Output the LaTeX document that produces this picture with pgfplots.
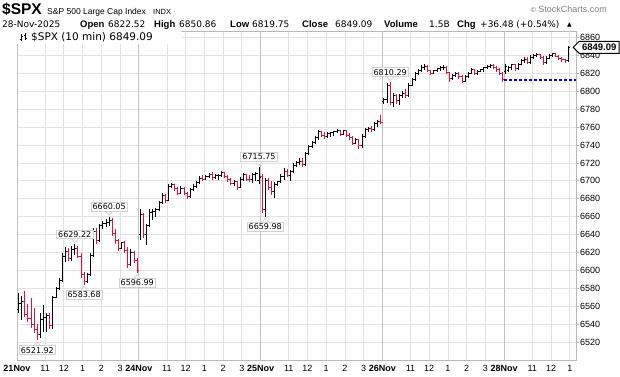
\documentclass[border=0pt]{standalone}
\usepackage{pgfplots}
\pgfplotsset{compat=1.18}
\usepackage{pgfplotstable}
\usepackage{fontspec}
\setmainfont{Liberation Sans}
\newfontfamily\dejavu{DejaVu Sans}
\definecolor{barred}{RGB}{220,20,60}
\definecolor{gridc}{RGB}{226,226,226}
\definecolor{dayc}{RGB}{192,192,192}
\definecolor{pblue}{RGB}{0,0,255}
% rising bars (close >= open)
\pgfplotstableread{
x o h l c
0 6556 6575 6553 6563
1 6563 6571 6545 6565
7 6528 6552 6525 6545
8 6545 6561 6531 6548
9 6548 6553 6531 6550
11 6538 6572 6535 6570
12 6570 6582 6569 6580
13 6580 6592 6578 6589
14 6589 6620 6587 6615
15 6615 6626 6609 6621
17 6613 6627 6611 6623
18 6623 6629.22 6617 6625
22 6588 6597 6586 6595
23 6595 6620 6594 6617
24 6617 6647 6615 6643
26 6633 6652 6632 6650
27 6650 6655 6646 6652
28 6652 6657 6649 6654
29 6654 6660.05 6650 6656
33 6625 6632 6624 6631
36 6607 6624 6605 6620
39 6640 6669 6634 6662
41 6640 6652 6628 6650
42 6650 6669 6648 6665
43 6665 6669 6656 6666
44 6666 6670 6660 6668
45 6668 6678 6666 6676
46 6676 6686 6674 6684
48 6678 6697 6677 6694
49 6694 6698 6692 6696
52 6686 6694 6685 6692
55 6682 6692 6681 6690
56 6690 6696 6689 6694
57 6694 6700 6692 6698
58 6698 6705 6697 6703
60 6702 6707 6701 6705
61 6705 6709 6703 6707
63 6704 6708 6702 6706
64 6706 6708 6701 6706
65 6706 6711 6704 6709
69 6697 6701 6694 6699
71 6693 6704 6692 6702
72 6702 6709 6700 6707
75 6701 6709 6698 6707
76 6707 6710 6700 6708
77 6700 6715.75 6697 6704
79 6668 6703 6659.98 6700
82 6688 6699 6681 6696
83 6696 6700 6694 6699
84 6699 6708 6698 6705
85 6705 6714 6701 6711
87 6706 6712 6700 6710
88 6710 6720 6709 6717
89 6717 6722 6715 6720
90 6720 6725 6718 6722
92 6718 6732 6717 6730
93 6730 6740 6729 6738
94 6738 6745 6737 6743
95 6743 6750 6741 6748
96 6748 6757 6746 6755
99 6749 6755 6748 6753
100 6753 6755 6749 6754
101 6754 6756 6750 6755
102 6755 6758 6753 6756
104 6752 6757 6751 6756
108 6742 6748 6741 6746
110 6739 6752 6737 6750
111 6750 6759 6748 6757
112 6757 6760 6755 6759
114 6757 6766 6756 6764
115 6764 6768 6760 6766
117 6789 6793 6786 6791
118 6791 6809 6787 6806
120 6788 6798 6782 6795
122 6790 6797 6785 6795
123 6795 6800 6792 6798
125 6795 6809 6794 6807
126 6807 6815 6806 6813
127 6813 6822 6812 6820
128 6820 6825 6818 6823
129 6823 6829 6822 6827
130 6827 6830 6824 6828
133 6820 6824 6819 6823
134 6823 6826 6821 6825
135 6825 6828 6823 6826
136 6826 6829 6824 6827
139 6814 6819 6813 6818
140 6818 6822 6816 6820
143 6811 6818 6810 6816
144 6816 6822 6815 6820
145 6820 6826 6819 6824
147 6820 6824 6818 6822
148 6822 6825 6821 6824
149 6824 6827 6822 6826
150 6826 6829 6825 6828
151 6828 6830 6826 6829
156 6822.52 6831 6819.75 6828
157 6823 6828 6821 6826
158 6826 6831 6824 6830
160 6825 6832 6824 6830
161 6830 6836 6829 6834
162 6834 6838 6832 6836
164 6832 6840 6831 6838
165 6838 6842 6836 6840
166 6840 6843 6838 6841
169 6832 6839 6831 6837
170 6837 6842 6836 6840
171 6840 6843 6838 6842
176 6834 6850.86 6833 6849.09
}\upbars
% falling bars (close < open)
\pgfplotstableread{
x o h l c
2 6565 6577 6548 6551
3 6551 6562 6542 6546
4 6546 6569 6536 6540
5 6540 6558 6530 6534
6 6534 6540 6521.92 6528
10 6550 6552 6535 6538
16 6621 6625 6610 6613
19 6625 6627 6614 6616
20 6616 6620 6592 6596
21 6596 6598 6583.68 6588
25 6643 6647 6630 6633
30 6656 6658 6638 6641
31 6641 6646 6630 6633
32 6633 6635 6622 6625
34 6631 6633 6620 6622
35 6622 6626 6603 6607
37 6620 6622 6608 6611
38 6611 6614 6596.99 6600
40 6662 6664 6636 6640
47 6684 6685 6675 6678
50 6696 6697 6689 6691
51 6691 6693 6684 6686
53 6692 6693 6684 6686
54 6686 6688 6680 6682
59 6703 6706 6700 6702
62 6707 6710 6701 6704
66 6709 6710 6703 6705
67 6705 6707 6699 6701
68 6701 6703 6695 6697
70 6699 6700 6690 6693
73 6707 6708 6700 6702
74 6702 6706 6699 6701
78 6705 6708 6664 6668
80 6700 6703 6690 6693
81 6693 6700 6684 6688
86 6711 6713 6704 6706
91 6722 6725 6716 6718
97 6755 6756 6749 6751
98 6751 6754 6747 6749
103 6756 6757 6750 6752
105 6756 6757 6749 6751
106 6751 6753 6746 6748
107 6748 6750 6740 6742
109 6746 6747 6736 6739
113 6759 6761 6755 6757
116 6766 6774 6763 6765
119 6806 6810.29 6785 6788
121 6795 6797 6786 6790
124 6798 6803 6793 6795
131 6828 6829 6821 6823
132 6823 6824 6818 6820
137 6827 6828 6819 6821
138 6821 6822 6810 6814
141 6820 6822 6814 6816
142 6816 6818 6809 6811
146 6824 6825 6818 6820
152 6829 6830 6825 6827
153 6827 6828 6822 6824
154 6824 6826 6818 6820
155 6820 6821 6810 6812.61
159 6830 6831 6823 6825
163 6836 6838 6830 6832
167 6841 6842 6836 6838
168 6838 6839 6829 6832
172 6842 6843 6838 6839
173 6839 6840 6835 6837
174 6837 6838 6833 6835
175 6835 6836 6832 6834
}\dnbars
\tikzset{lbl/.style={draw=gray!35, fill=white, line width=0.8pt, inner xsep=1.6pt, inner ysep=1.4pt,
  font=\dejavu\fontsize{8}{9}\selectfont}}
\newcommand{\hilab}[3]{%
  \draw[gray!35, line width=0.8pt, fill=white] ([xshift=-3.5pt,yshift=5.6pt]axis cs:#1,#2) -- ([yshift=1.5pt]axis cs:#1,#2) -- ([xshift=3.5pt,yshift=5.6pt]axis cs:#1,#2);
  \node[lbl, anchor=south] at ([yshift=5pt]axis cs:#1,#2) {#3};}
\newcommand{\lolab}[3]{%
  \draw[gray!35, line width=0.8pt, fill=white] ([xshift=-3.5pt,yshift=-5.6pt]axis cs:#1,#2) -- ([yshift=-1.5pt]axis cs:#1,#2) -- ([xshift=3.5pt,yshift=-5.6pt]axis cs:#1,#2);
  \node[lbl, anchor=north] at ([yshift=-5pt]axis cs:#1,#2) {#3};}
\newcommand{\lab}[1]{{\fontsize{9.5}{11}\selectfont\bfseries #1}}
\newcommand{\val}[1]{{\dejavu\fontsize{9}{11}\selectfont #1}}
\begin{document}
\begin{tikzpicture}[x=1pt,y=1pt]
\useasboundingbox (0,0) rectangle (620,376);
\begin{axis}[
  at={(17pt,16pt)}, anchor=south west,
  width=559pt, height=329pt, scale only axis,
  xmin=-0.5, xmax=178.5, ymin=6500, ymax=6867.3,
  clip=false,
  axis line style={gray!55, line width=0.8pt},
  xtick={8.5,14.5,20.5,26.5,32.5,47.5,53.5,59.5,65.5,71.5,86.5,92.5,98.5,104.5,110.5,125.5,131.5,137.5,143.5,149.5,164.5,170.5,176.5},
  xticklabels={11,12,1,2,3,11,12,1,2,3,11,12,1,2,3,11,12,1,2,3,11,12,1},
  extra x ticks={-0.5,38.5,77.5,116.5,155.5},
  extra x tick labels={\textbf{21Nov},\textbf{24Nov},\textbf{25Nov},\textbf{26Nov},\textbf{28Nov}},
  extra x tick style={grid style={dayc, line width=1pt}},
  xmajorgrids, ymajorgrids,
  grid style={gridc, line width=0.8pt},
  ytick={6520,6540,...,6860},
  ytick pos=right, xtick pos=bottom,
  yticklabel pos=right,
  tick align=outside,
  x tick style={draw=none},
  y tick style={gray!60, line width=0.8pt},
  major tick length=2.5pt,
  scaled y ticks=false,
  /pgf/number format/1000 sep={},
  /pgf/number format/assume math mode=true,
  tick label style={font=\fontsize{9}{10}\selectfont},
  yticklabel style={xshift=-2pt},
  xticklabel style={yshift=0.5pt},
  no markers,
]
% high-low lines, open ticks (left), close ticks (right)
\addplot[black, line width=1pt, quiver={u=0, v=\thisrow{l}-\thisrow{h}}] table[x=x, y=h]{\upbars};
\addplot[black, line width=1pt, quiver={u=-0.55, v=0}] table[x=x, y=o]{\upbars};
\addplot[black, line width=1pt, quiver={u=0.55, v=0}] table[x=x, y=c]{\upbars};
\addplot[barred, line width=1pt, quiver={u=0, v=\thisrow{l}-\thisrow{h}}] table[x=x, y=h]{\dnbars};
\addplot[barred, line width=1pt, quiver={u=-0.55, v=0}] table[x=x, y=o]{\dnbars};
\addplot[barred, line width=1pt, quiver={u=0.55, v=0}] table[x=x, y=c]{\dnbars};
\addplot[draw=pblue, line width=1.1pt, dash pattern=on 3pt off 2pt] coordinates {(155.5,6812.61) (178.5,6812.61)};
\hilab{18}{6629.22}{6629.22}
\hilab{29}{6660.05}{6660.05}
\hilab{77}{6715.75}{6715.75}
\hilab{119}{6810.29}{6810.29}
\lolab{6}{6521.92}{6521.92}
\lolab{21}{6583.68}{6583.68}
\lolab{38}{6596.99}{6596.99}
\lolab{79}{6659.98}{6659.98}
\draw[black, fill=white, line width=0.9pt] (axis cs:177.6,6849.09) -- ++(6pt,6pt) -- ++(40pt,0pt) -- ++(0pt,-12pt) -- ++(-40pt,0pt) -- cycle;
\node[font=\bfseries\fontsize{9.5}{10}\selectfont, inner sep=0pt] at ([xshift=26pt]axis cs:177.6,6849.09) {6849.09};
\end{axis}
% header line 1
\node[anchor=base west, inner sep=0pt, font=\bfseries\fontsize{15.5}{16}\selectfont] at (2,362) {\$SPX};
\node[anchor=base west, inner sep=0pt, font=\fontsize{8.5}{10}\selectfont] at (47,362) {S\&P 500 Large Cap Index};
\node[anchor=base west, inner sep=0pt, font=\fontsize{7.5}{9}\selectfont] at (153,362) {INDX};
\node[anchor=base east, inner sep=0pt, font=\fontsize{9}{10}\selectfont, text=gray] at (607,363) {{\dejavu\fontsize{7}{8}\selectfont ©}\,StockCharts.com};
% header line 2
\node[anchor=base west, inner sep=0pt] at (2,349) {\val{28-Nov-2025}};
\node[anchor=base west, inner sep=0pt] at (80,349) {\lab{Open}};
\node[anchor=base west, inner sep=0pt] at (108,349) {\val{6822.52}};
\node[anchor=base west, inner sep=0pt] at (154,349) {\lab{High}};
\node[anchor=base west, inner sep=0pt] at (179,349) {\val{6850.86}};
\node[anchor=base west, inner sep=0pt] at (230,349) {\lab{Low}};
\node[anchor=base west, inner sep=0pt] at (252,349) {\val{6819.75}};
\node[anchor=base west, inner sep=0pt] at (302,349) {\lab{Close}};
\node[anchor=base west, inner sep=0pt] at (335,349) {\val{6849.09}};
\node[anchor=base west, inner sep=0pt] at (384,349) {\lab{Volume}};
\node[anchor=base west, inner sep=0pt] at (429,349) {\val{1.5B}};
\node[anchor=base west, inner sep=0pt] at (457,349) {\lab{Chg}};
\node[anchor=base west, inner sep=0pt] at (480,349) {\val{+36.48 (+0.54\%)}};
\node[anchor=base west, inner sep=0pt] at (567,349.5) {{\dejavu\fontsize{6}{7}\selectfont ▲}};
% in-plot legend
\fill[white] (17.4,332.5) rectangle (181,344.6);
\draw[line width=0.7pt] (21,335) -- (21,342) (19.5,337) -- (21,337) (21,340) -- (22.5,340);
\draw[line width=0.7pt] (25,336) -- (25,343) (23.5,341) -- (25,341) (25,338) -- (26.5,338);
\node[anchor=base west, inner sep=0pt, font=\dejavu\fontsize{10.5}{12}\selectfont] at (31,335.5) {\$SPX (10 min) 6849.09};
\end{tikzpicture}
\end{document}
